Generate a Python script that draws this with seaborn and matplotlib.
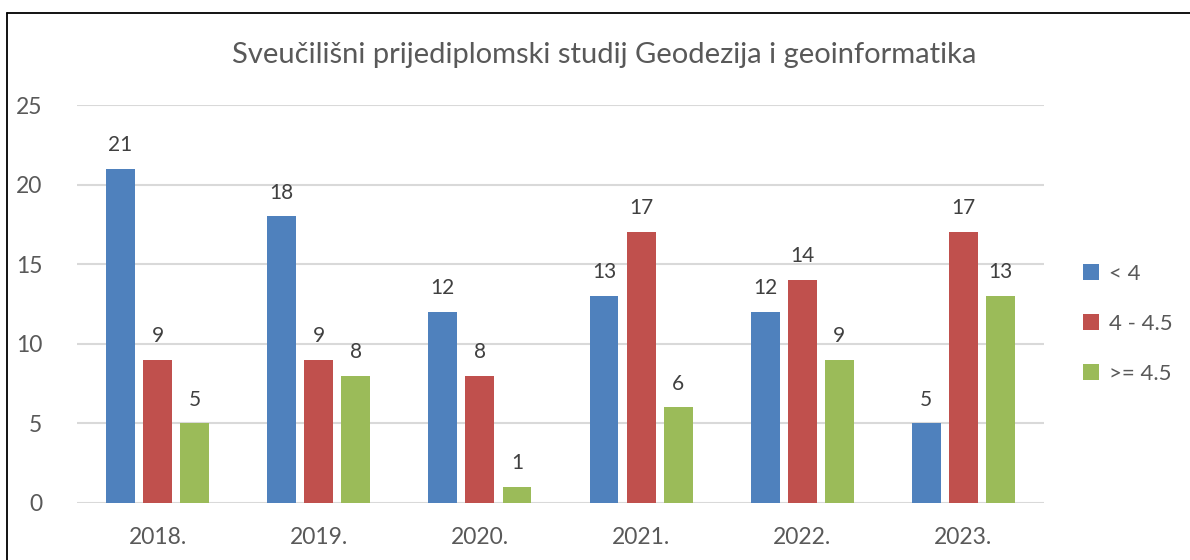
import pandas as pd
import matplotlib.pyplot as plt
import seaborn as sns
from matplotlib.lines import Line2D

years = ['2018.', '2019.', '2020.', '2021.', '2022.', '2023.']
groups = ['< 4', '4 - 4.5', '>= 4.5']
below_4 = [21, 18, 12, 13, 12, 5]
mid_4_45 = [9, 9, 8, 17, 14, 17]
above_45 = [5, 8, 1, 6, 9, 13]
colors = ['#4F81BD', '#C0504D', '#9BBB59']

df = pd.DataFrame({
    'year': years * 3,
    'group': [groups[0]] * 6 + [groups[1]] * 6 + [groups[2]] * 6,
    'count': below_4 + mid_4_45 + above_45,
})

sns.set_style('white')
plt.rcParams['font.family'] = ['Lato', 'DejaVu Sans']
text_col = '#595959'

fig = plt.figure(figsize=(11.9, 5.6), dpi=100)
ax = fig.add_axes([0.0647, 0.1018, 0.8126, 0.7107])

sns.barplot(data=df, x='year', y='count', hue='group', palette=colors,
            width=0.69, gap=0.22, ax=ax, saturation=1, linewidth=0,
            legend=True)

for container in ax.containers:
    ax.bar_label(container, padding=10, fontsize=15, color='#404040')

ax.set_ylim(0, 25)
ax.set_xlim(-0.5, 5.5)
ax.set_yticks([0, 5, 10, 15, 20, 25])
ax.yaxis.grid(True, color='#D9D9D9', linewidth=1.5)
ax.set_axisbelow(True)
for s in ax.spines.values():
    s.set_visible(False)
ax.tick_params(axis='both', length=0, labelsize=16.5, colors=text_col)
ax.tick_params(axis='y', pad=25)
ax.tick_params(axis='x', pad=17)
ax.set_xlabel('')
ax.set_ylabel('')

fig.suptitle('Sveučilišni prijediplomski studij Geodezija i geoinformatika',
             x=0.508, y=0.925, fontsize=21, color=text_col)

handles, labels = ax.get_legend_handles_labels()
ax.legend(handles, labels, loc='center left', bbox_to_anchor=(1.02, 0.45),
          frameon=False, fontsize=16, labelcolor=text_col, handlelength=0.7,
          handleheight=0.7, handletextpad=0.45, labelspacing=1.35)

# chart border (left and top only visible)
fig.add_artist(Line2D([7 / 1190, 7 / 1190], [0, 1 - 13 / 560], color='black', lw=1.3))
fig.add_artist(Line2D([7 / 1190, 1], [1 - 13 / 560, 1 - 13 / 560], color='black', lw=1.3))

plt.savefig('out.png', dpi=100)
plt.clf()
